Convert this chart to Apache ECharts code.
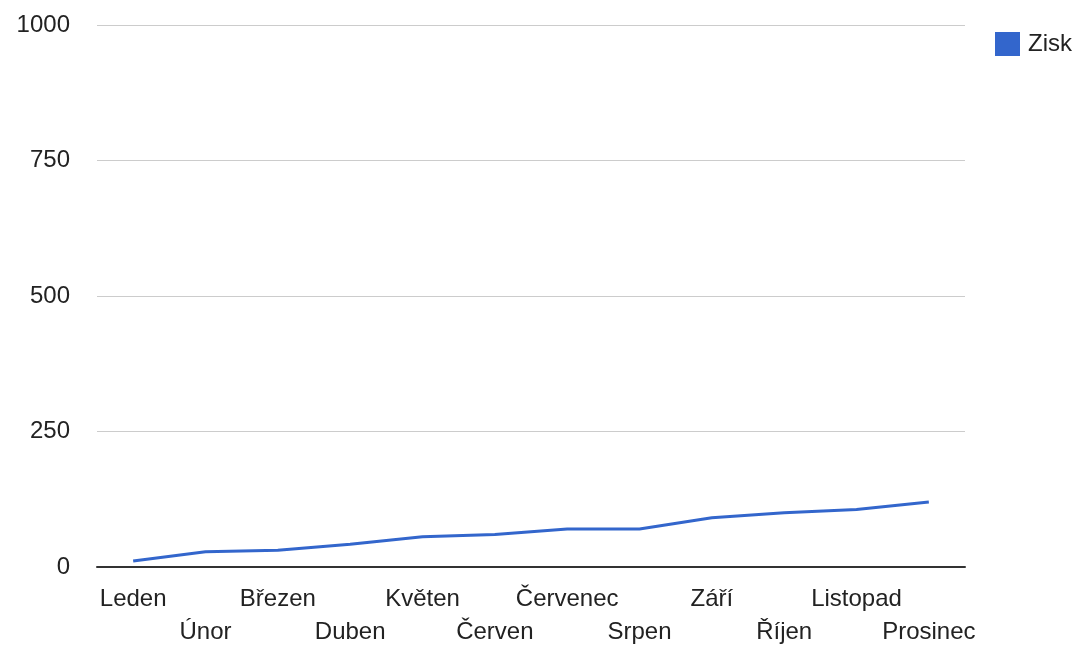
<!DOCTYPE html>
<html>
<head>
<meta charset="utf-8">
<script src="https://cdn.jsdelivr.net/npm/echarts@6/dist/echarts.min.js"></script>
<style>
html,body{margin:0;padding:0;background:#fff;}
#chart{width:1085px;height:652px;}
</style>
</head>
<body>
<div id="chart"></div>
<script>
var months=['Leden','Únor','Březen','Duben','Květen','Červen','Červenec','Srpen','Září','Říjen','Listopad','Prosinec'];
var zisk=[11,28,31,42,56,60,70,70,91,100,106,120];
var yTicks=[0,250,500,750,1000];

var chart=echarts.init(document.getElementById('chart'));
var font='"Liberation Sans", Arial, sans-serif';
var option={
    animation:false,
    textStyle:{fontFamily:font},
    grid:{left:97,right:120,top:25,bottom:85},
    legend:{
        left:990,top:27,
        orient:'vertical',
        itemWidth:25,itemHeight:24,
        icon:'rect',
        textStyle:{fontSize:24,color:'#222',fontFamily:font,padding:[0,0,0,3]},
        data:['Zisk']
    },
    xAxis:{
        type:'category',
        data:months,
        boundaryGap:true,
        axisTick:{show:false},
        axisLine:{lineStyle:{color:'#333',width:2}},
        axisLabel:{
            interval:0,
            margin:16,
            fontSize:24,
            lineHeight:33,
            color:'#222',
            fontFamily:font,
            formatter:function(v,i){ return i%2 ? '\n'+v : v; }
        }
    },
    yAxis:{
        type:'value',
        min:yTicks[0],max:yTicks[yTicks.length-1],interval:250,
        axisLine:{show:false},
        axisTick:{show:false},
        splitLine:{lineStyle:{color:'#cccccc',width:1}},
        axisLabel:{margin:27,fontSize:24,color:'#222',fontFamily:font,
            formatter:function(v){ return String(v); }}
    },
    series:[{
        name:'Zisk',
        type:'line',
        data:zisk,
        showSymbol:false,
        symbol:'none',
        itemStyle:{color:'#3366cc'},
        lineStyle:{color:'#3366cc',width:3}
    }]
};
chart.setOption(option);
</script>
</body>
</html>
